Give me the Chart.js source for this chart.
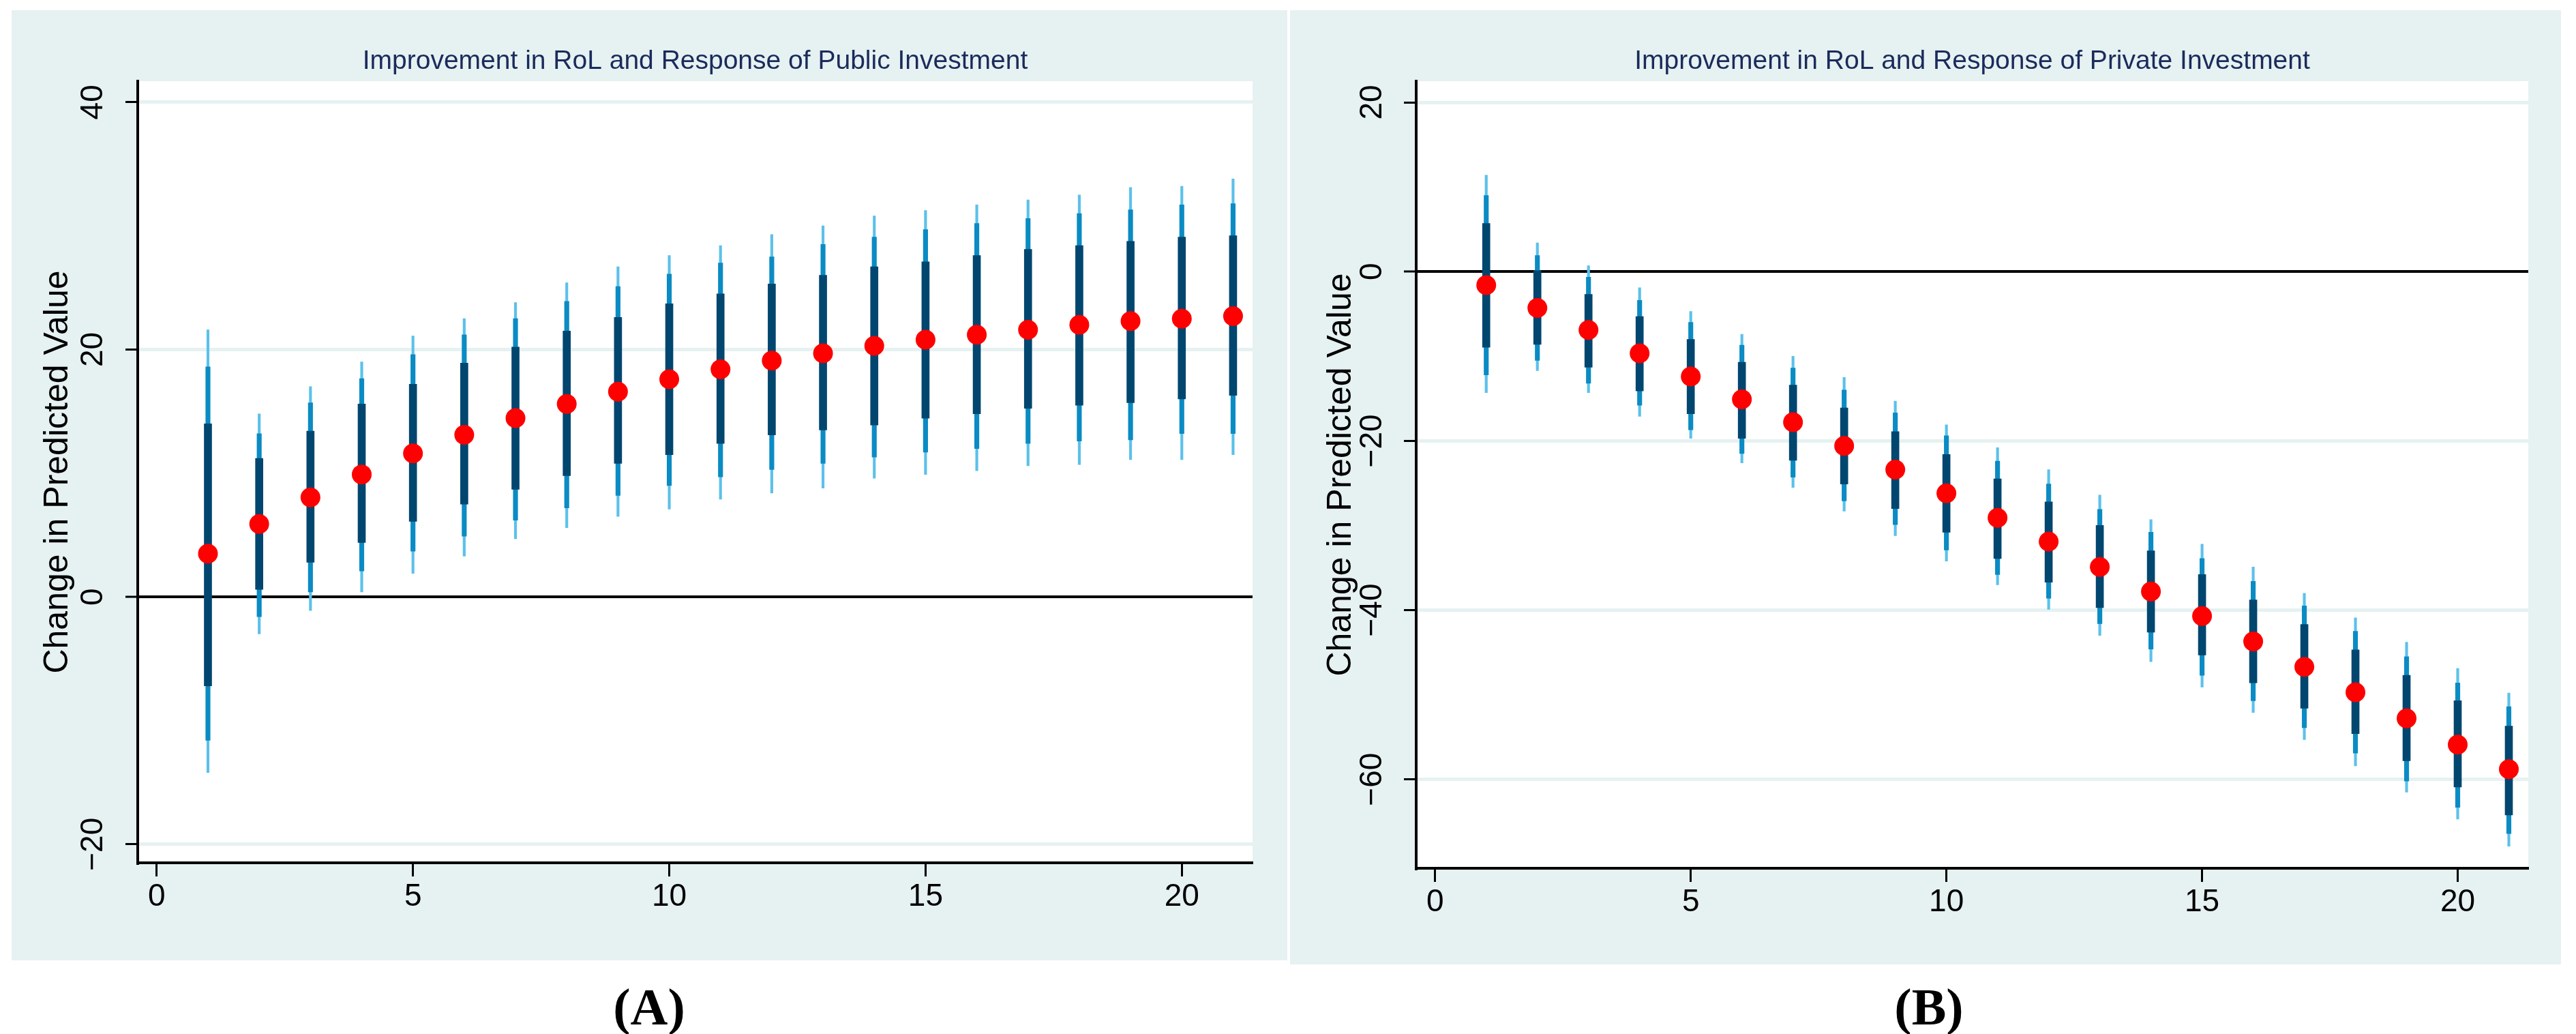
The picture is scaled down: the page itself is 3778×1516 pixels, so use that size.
<!DOCTYPE html>
<html>
<head>
<meta charset="utf-8">
<script src="https://cdn.jsdelivr.net/npm/chart.js@4.4.1/dist/chart.umd.min.js"></script>
<style>
body { margin: 0; background: #fff; width: 3778px; height: 1516px; position: relative; overflow: hidden; }
.panel { position: absolute; background: #e6f1f1; }
.panel canvas { position: absolute; left: 0; top: 0; }
.tag { position: absolute; top: 1432px; width: 300px; text-align: center; font: bold 76px "Liberation Serif", serif; line-height: 88px; color: #000; }
</style>
</head>
<body>
<div class="panel" style="left:17px;top:15px;width:1871px;height:1393px"><canvas id="publicChart" width="1871" height="1393"></canvas></div>
<div class="panel" style="left:1892px;top:15px;width:1864px;height:1399px"><canvas id="privateChart" width="1864" height="1399"></canvas></div>
<div class="tag" style="left:802px">(A)</div>
<div class="tag" style="left:2679px">(B)</div>
<script>
const steps = [1, 2, 3, 4, 5, 6, 7, 8, 9, 10, 11, 12, 13, 14, 15, 16, 17, 18, 19, 20, 21];
const xTicks = [0, 5, 10, 15, 20];

// (A) public investment
const publicTicks = [-20, 0, 20, 40];
const publicEst = [3.5, 5.9, 8.05, 9.9, 11.6, 13.1, 14.45, 15.6, 16.6, 17.6, 18.4, 19.1, 19.7, 20.3, 20.8, 21.2, 21.6, 22.0, 22.3, 22.5, 22.7];
const publicDarkLo = [-7.2, 0.6, 2.8, 4.4, 6.1, 7.5, 8.7, 9.8, 10.8, 11.5, 12.4, 13.1, 13.5, 13.9, 14.45, 14.8, 15.25, 15.5, 15.7, 16.0, 16.3];
const publicDarkHi = [14.0, 11.2, 13.4, 15.6, 17.2, 18.9, 20.2, 21.5, 22.6, 23.7, 24.5, 25.3, 26.0, 26.7, 27.1, 27.6, 28.1, 28.4, 28.75, 29.1, 29.2];
const publicMidLo = [-11.6, -1.6, 0.4, 2.1, 3.7, 4.9, 6.2, 7.2, 8.2, 9.0, 9.7, 10.3, 10.8, 11.3, 11.7, 12.0, 12.4, 12.6, 12.7, 13.2, 13.2];
const publicMidHi = [18.6, 13.2, 15.7, 17.65, 19.6, 21.2, 22.5, 23.9, 25.1, 26.1, 27.0, 27.5, 28.5, 29.1, 29.7, 30.2, 30.6, 31.0, 31.3, 31.7, 31.8];
const publicThinLo = [-14.2, -3.0, -1.1, 0.4, 1.9, 3.3, 4.7, 5.6, 6.5, 7.1, 7.9, 8.4, 8.8, 9.6, 9.9, 10.2, 10.6, 10.7, 11.1, 11.1, 11.5];
const publicThinHi = [21.6, 14.8, 17.0, 19.0, 21.1, 22.5, 23.8, 25.4, 26.7, 27.6, 28.4, 29.3, 30.0, 30.8, 31.25, 31.7, 32.1, 32.5, 33.1, 33.2, 33.8];

// (B) private investment
const privateTicks = [-60, -40, -20, 0, 20];
const privateEst = [-1.6, -4.3, -6.9, -9.65, -12.4, -15.1, -17.8, -20.6, -23.4, -26.2, -29.1, -31.9, -34.9, -37.8, -40.7, -43.7, -46.7, -49.7, -52.8, -55.9, -58.8];
const privateDarkLo = [-8.95, -8.6, -11.3, -14.1, -16.8, -19.7, -22.3, -25.1, -28.0, -30.8, -33.9, -36.7, -39.7, -42.6, -45.3, -48.6, -51.6, -54.6, -57.8, -60.9, -64.2];
const privateDarkHi = [5.7, 0.1, -2.7, -5.3, -8.0, -10.7, -13.4, -16.1, -18.9, -21.6, -24.5, -27.2, -30.0, -33.0, -35.8, -38.8, -41.7, -44.7, -47.7, -50.7, -53.7];
const privateMidLo = [-12.2, -10.5, -13.2, -15.8, -18.7, -21.5, -24.3, -27.1, -29.9, -32.9, -35.8, -38.6, -41.6, -44.6, -47.7, -50.7, -53.9, -56.9, -60.2, -63.3, -66.4];
const privateMidHi = [9.0, 1.9, -0.65, -3.4, -6.0, -8.7, -11.4, -14.0, -16.7, -19.4, -22.4, -25.1, -28.1, -30.8, -33.9, -36.6, -39.5, -42.5, -45.5, -48.6, -51.4];
const privateThinLo = [-14.3, -11.7, -14.3, -17.1, -19.7, -22.6, -25.5, -28.3, -31.2, -34.2, -37.0, -39.9, -43.0, -46.1, -49.1, -52.1, -55.3, -58.4, -61.5, -64.7, -67.9];
const privateThinHi = [11.4, 3.4, 0.7, -1.9, -4.7, -7.4, -10.0, -12.5, -15.3, -18.1, -20.8, -23.4, -26.4, -29.3, -32.2, -34.9, -38.0, -40.9, -43.8, -46.9, -49.8];

const bgColor = '#e6f1f1';

function fmt(v) {
    return v < 0 ? '\u2212' + Math.abs(v) : String(v);
}

// white plot region, stata style title + rotated y tick labels
const stataText = {
    id: 'stataText',
    beforeDraw(chart) {
        const a = chart.chartArea;
        chart.ctx.save();
        chart.ctx.fillStyle = '#fff';
        chart.ctx.fillRect(a.left, a.top, a.right - a.left, a.bottom - a.top);
        chart.ctx.restore();
    },
    afterDraw(chart, args, opts) {
        const ctx = chart.ctx;
        const area = chart.chartArea;
        const y = chart.scales.y;
        ctx.save();
        ctx.textAlign = 'center';
        ctx.textBaseline = 'middle';
        ctx.fillStyle = '#1a2b5c';
        ctx.font = '39px "Liberation Sans Narrow", "Liberation Sans", sans-serif';
        ctx.fillText(opts.title, (area.left + area.right) / 2, opts.titleY);
        ctx.fillStyle = '#000';
        ctx.font = '46px "Liberation Sans", sans-serif';
        y.ticks.forEach(t => {
            ctx.save();
            ctx.translate(opts.tickX, y.getPixelForValue(t.value));
            ctx.rotate(-Math.PI / 2);
            ctx.fillText(fmt(t.value), 0, 0);
            ctx.restore();
        });
        ctx.restore();
    }
};

function bars(lo, hi) {
    return steps.map((s, i) => ({x: s, y: [lo[i], hi[i]]}));
}

function generatePanel(id, p) {
    const ctx = document.getElementById(id).getContext('2d');
    new Chart(ctx, {
        type: 'bar',
        data: {
            datasets: [
                {
                    type: 'scatter',
                    data: steps.map((s, i) => ({x: s, y: p.est[i]})),
                    pointRadius: 14.5,
                    pointBackgroundColor: '#ff0000',
                    pointBorderWidth: 0
                },
                {data: bars(p.darkLo, p.darkHi), backgroundColor: '#00466f', barThickness: 11, grouped: false},
                {data: bars(p.midLo, p.midHi), backgroundColor: '#0a8bc3', barThickness: 6.5, grouped: false},
                {data: bars(p.thinLo, p.thinHi), backgroundColor: '#5bc1ea', barThickness: 3.5, grouped: false}
            ]
        },
        options: {
            responsive: false,
            devicePixelRatio: 1,
            animation: false,
            layout: {padding: {left: 0, right: p.padRight, top: 104, bottom: 0}},
            scales: {
                x: {
                    type: 'linear',
                    min: -0.37,
                    max: 21.38,
                    offset: false,
                    afterBuildTicks: s => { s.ticks = xTicks.map(v => ({value: v})); },
                    afterFit: s => { s.height = p.xHeight; },
                    ticks: {color: '#000', font: {family: '"Liberation Sans"', size: 46}, padding: 3, maxRotation: 0},
                    grid: {drawOnChartArea: false, offset: false, tickColor: '#000', tickWidth: 3, tickLength: 20},
                    border: {color: '#000', width: 4}
                },
                y: {
                    min: p.yMin,
                    max: p.yMax,
                    afterBuildTicks: s => { s.ticks = p.yTicks.map(v => ({value: v})); },
                    afterFit: s => { s.width = 185; },
                    ticks: {display: false},
                    grid: {
                        color: c => (c.tick && c.tick.value === 0) ? '#000' : bgColor,
                        lineWidth: c => (c.tick && c.tick.value === 0) ? 4 : 5,
                        tickColor: '#000',
                        tickWidth: 3,
                        tickLength: 18
                    },
                    border: {color: '#000', width: 4},
                    title: {
                        display: true,
                        text: 'Change in Predicted Value',
                        color: '#000',
                        font: {family: '"Liberation Sans"', size: 50},
                        padding: {top: p.titlePad, bottom: 0}
                    }
                }
            },
            plugins: {
                legend: {display: false},
                tooltip: {enabled: false},
                stataText: {title: p.title, titleY: 75, tickX: p.tickX}
            }
        },
        plugins: [stataText]
    });
}

document.addEventListener("DOMContentLoaded", function () {
    generatePanel('publicChart', {
        title: 'Improvement in RoL and Response of Public Investment',
        est: publicEst,
        darkLo: publicDarkLo, darkHi: publicDarkHi,
        midLo: publicMidLo, midHi: publicMidHi,
        thinLo: publicThinLo, thinHi: publicThinHi,
        yTicks: publicTicks, yMin: -21.5, yMax: 41.7,
        padRight: 51, xHeight: 143, titlePad: 38, tickX: 120
    });
    generatePanel('privateChart', {
        title: 'Improvement in RoL and Response of Private Investment',
        est: privateEst,
        darkLo: privateDarkLo, darkHi: privateDarkHi,
        midLo: privateMidLo, midHi: privateMidHi,
        thinLo: privateThinLo, thinHi: privateThinHi,
        yTicks: privateTicks, yMin: -70.5, yMax: 22.5,
        padRight: 48, xHeight: 141, titlePad: 45, tickX: 121
    });
});
</script>
</body>
</html>
